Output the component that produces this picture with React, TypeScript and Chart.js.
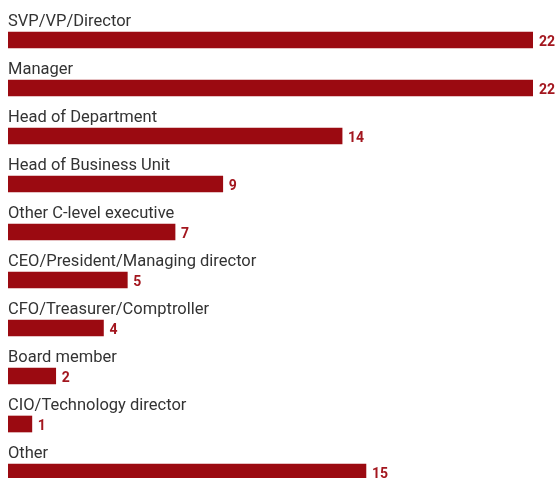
import React, { useEffect, useRef } from "react";
import { Chart, registerables } from "chart.js";

Chart.register(...registerables);

const categories = [
  "SVP/VP/Director",
  "Manager",
  "Head of Department",
  "Head of Business Unit",
  "Other C-level executive",
  "CEO/President/Managing director",
  "CFO/Treasurer/Comptroller",
  "Board member",
  "CIO/Technology director",
  "Other",
];
const values = [22, 22, 14, 9, 7, 5, 4, 2, 1, 15];

const BAR = "#9b0a11";
const LABEL = "#333333";
const VALUE = "#a3161e";

const labelsPlugin = {
  id: "rowLabels",
  afterDatasetsDraw(chart: any) {
    const ctx = chart.ctx;
    const meta = chart.getDatasetMeta(0);
    ctx.save();
    meta.data.forEach((bar: any, i: number) => {
      const top = bar.y - bar.height / 2;
      const bottom = bar.y + bar.height / 2;
      ctx.fillStyle = LABEL;
      ctx.font = "16.5px Roboto";
      ctx.textBaseline = "alphabetic";
      ctx.textAlign = "left";
      ctx.fillText(chart.data.labels[i], chart.chartArea.left, top - 6.5);
      ctx.fillStyle = VALUE;
      ctx.font = "bold 14px Roboto";
      ctx.fillText(String(values[i]), bar.x + 6, bottom - 2);
    });
    ctx.restore();
  },
};

export default function App() {
  const ref = useRef<HTMLCanvasElement>(null);
  useEffect(() => {
    document.body.style.margin = "0";
    const chart = new Chart(ref.current!, {
      type: "bar",
      data: {
        labels: categories,
        datasets: [
          {
            data: values,
            backgroundColor: BAR,
            barThickness: 16,
            borderWidth: 0,
          },
        ],
      },
      options: {
        indexAxis: "y",
        responsive: false,
        animation: false,
        layout: { padding: { left: 8, right: 26, top: 16, bottom: 0 } },
        plugins: { legend: { display: false }, tooltip: { enabled: false } },
        scales: {
          x: { display: false, min: 0, max: 22 },
          y: { display: false, grid: { display: false } },
        },
      },
      plugins: [labelsPlugin],
    });
    return () => chart.destroy();
  }, []);
  return (
    <div style={{ width: 559, height: 478, overflow: "hidden", position: "relative" }}>
      <canvas ref={ref} width={559} height={496} style={{ display: "block" }} />
    </div>
  );
}
